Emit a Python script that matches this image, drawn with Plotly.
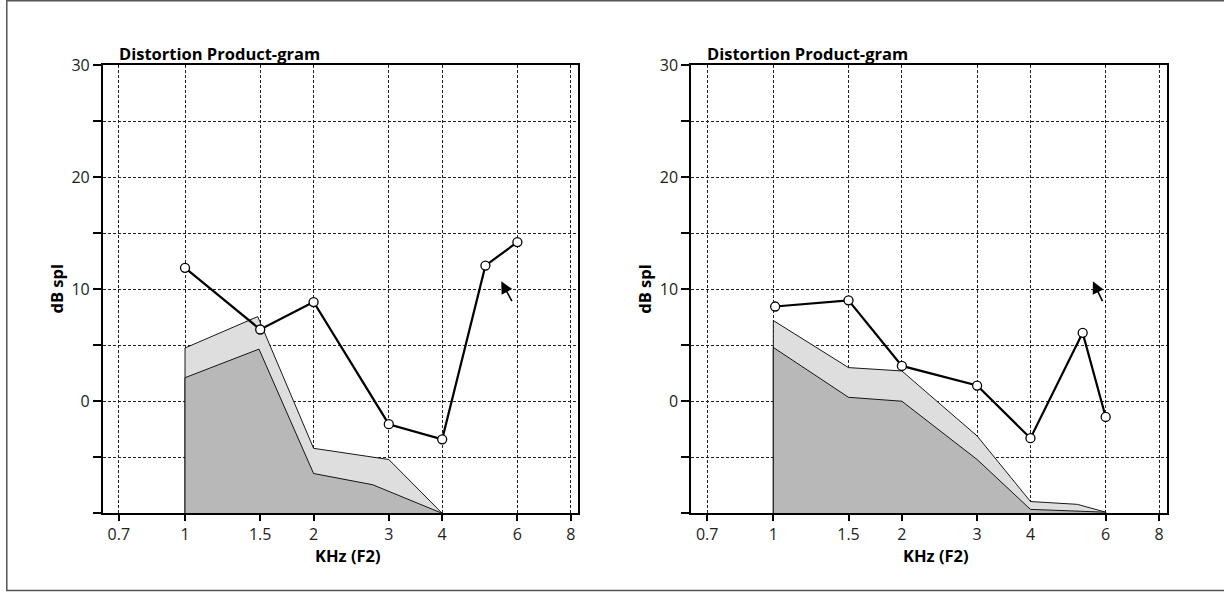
import math
import plotly.graph_objects as go

W, H = 1224, 593

# ---------------- data ----------------
x_tick_vals = [0.7, 1, 1.5, 2, 3, 4, 6, 8]
x_tick_text = ["0.7", "1", "1.5", "2", "3", "4", "6", "8"]
y_tick_vals = [-10, -5, 0, 5, 10, 15, 20, 25, 30]
y_tick_text = ["", "", "0", "", "10", "", "20", "", "30"]

left_line_khz = [1.0, 1.5, 2.0, 3.0, 4.0, 5.05, 6.0]
left_line_db = [11.9, 6.4, 8.85, -2.05, -3.4, 12.1, 14.2]
left_noise_hi_khz = [1.0, 1.48, 2.0, 3.0, 4.0]
left_noise_hi_db = [4.75, 7.55, -4.2, -5.2, -10.0]
left_noise_lo_khz = [1.0, 1.49, 2.0, 2.75, 4.0]
left_noise_lo_db = [2.1, 4.65, -6.45, -7.45, -10.0]
left_arrow_tip = [5.5, 10.7]
left_arrow_tail = [5.85, 8.8]

right_line_khz = [1.01, 1.5, 2.0, 3.0, 4.0, 5.3, 6.0]
right_line_db = [8.45, 9.0, 3.15, 1.4, -3.3, 6.1, -1.4]
right_noise_hi_khz = [1.0, 1.5, 2.0, 3.0, 4.0, 5.15, 6.0]
right_noise_hi_db = [7.2, 3.0, 2.7, -3.1, -8.95, -9.2, -9.9]
right_noise_lo_khz = [1.0, 1.5, 2.0, 3.0, 4.0, 6.0]
right_noise_lo_db = [4.8, 0.35, 0.0, -5.2, -9.65, -9.9]
right_arrow_tip = [5.6, 10.7]
right_arrow_tail = [5.92, 8.8]

panel_title = "Distortion Product-gram"
x_title = "KHz (F2)"
y_title = "dB spl"
Y_FLOOR = -10

# ---------------- layout helpers ----------------
FONT = "Open Sans"
def px(x):
    return x / W
def py(y):
    return (H - y) / H

panels = [
    dict(xa="x", ya="y", off=0.0,
         line=(left_line_khz, left_line_db),
         hi=(left_noise_hi_khz, left_noise_hi_db),
         lo=(left_noise_lo_khz, left_noise_lo_db),
         arrow=(left_arrow_tip, left_arrow_tail)),
    dict(xa="x2", ya="y2", off=588.3,
         line=(right_line_khz, right_line_db),
         hi=(right_noise_hi_khz, right_noise_hi_db),
         lo=(right_noise_lo_khz, right_noise_lo_db),
         arrow=(right_arrow_tip, right_arrow_tail)),
]

fig = go.Figure()
annotations = []

for p in panels:
    for (kx, dy), col in ((p["hi"], "#dedede"), (p["lo"], "#b8b8b8")):
        xs = [kx[0]] + list(kx) + [kx[-1]]
        ys = [Y_FLOOR] + list(dy) + [Y_FLOOR]
        fig.add_trace(go.Scatter(
            x=xs, y=ys, xaxis=p["xa"], yaxis=p["ya"], mode="lines",
            fill="toself", fillcolor=col,
            line=dict(color="black", width=0.9),
            showlegend=False, hoverinfo="skip"))
    lx, ly = p["line"]
    fig.add_trace(go.Scatter(
        x=lx, y=ly, xaxis=p["xa"], yaxis=p["ya"], mode="lines+markers",
        line=dict(color="black", width=2.2),
        marker=dict(symbol="circle", size=9, color="white",
                    line=dict(color="black", width=1.3)),
        showlegend=False))
    tip, tail = p["arrow"]
    annotations.append(dict(
        x=math.log10(tip[0]), y=tip[1], ax=math.log10(tail[0]), ay=tail[1],
        xref=p["xa"], yref=p["ya"], axref=p["xa"], ayref=p["ya"],
        text="", showarrow=True, arrowhead=2, arrowsize=1.5,
        arrowwidth=1.6, arrowcolor="black"))
    o = p["off"]
    annotations.append(dict(
        x=px(117 + o), y=py(53.5), xref="paper", yref="paper",
        xanchor="left", yanchor="middle", showarrow=False,
        text="<b>%s</b>" % panel_title,
        font=dict(family=FONT, size=16.5, color="black")))
    annotations.append(dict(
        x=px(55.5 + o), y=py(289), xref="paper", yref="paper",
        xanchor="center", yanchor="middle", showarrow=False, textangle=-90,
        text="<b>%s</b>" % y_title,
        font=dict(family=FONT, size=16.5, color="black")))
    annotations.append(dict(
        x=px(348 + o), y=py(555.5), xref="paper", yref="paper",
        xanchor="center", yanchor="middle", showarrow=False,
        text="<b>%s</b>" % x_title,
        font=dict(family=FONT, size=16.5, color="black")))

xrange = [-0.1927, 0.9210]
grid = dict(showgrid=True, gridcolor="#222", gridwidth=1, griddash="3px,2px")
axis_common = dict(showline=True, linecolor="black", linewidth=1.5,
                   mirror=True, ticks="outside", tickcolor="black",
                   tickwidth=1.5, zeroline=False, automargin=False,
                   tickfont=dict(family=FONT, size=16, color="#222"), **grid)

def xaxis(dom, anchor):
    return dict(type="log", range=xrange, domain=dom, anchor=anchor,
                tickvals=x_tick_vals, ticktext=x_tick_text, ticklen=6,
                **axis_common)

def yaxis(anchor):
    return dict(range=[-10, 30], domain=[py(513.3), py(65)], anchor=anchor,
                tickvals=y_tick_vals, ticktext=y_tick_text, ticklen=8,
                **axis_common)

fig.update_layout(
    width=W, height=H, margin=dict(l=0, r=0, t=0, b=0, autoexpand=False),
    paper_bgcolor="white", plot_bgcolor="white",
    xaxis=xaxis([px(102.7), px(578.4)], "y"),
    yaxis=yaxis("x"),
    xaxis2=xaxis([px(691.0), px(1166.7)], "y2"),
    yaxis2=yaxis("x2"),
    annotations=annotations,
    shapes=[dict(type="rect", xref="paper", yref="paper",
                 x0=px(6.8), x1=px(1227), y0=py(590.5), y1=py(0.8),
                 line=dict(color="#555", width=1.5))],
)

fig.write_html("out.html")
